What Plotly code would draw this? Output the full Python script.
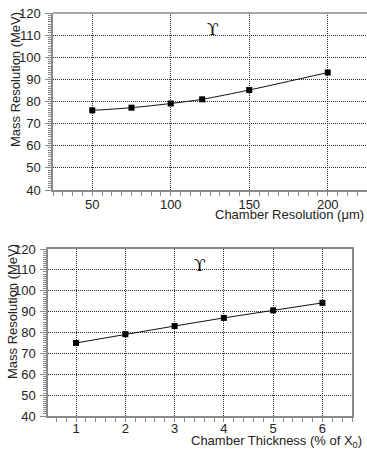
import plotly.graph_objects as go

# Top panel: chamber resolution
res_x = [50, 75, 100, 120, 150, 200]
res_y = [76.0, 77.2, 79.1, 81.0, 85.2, 93.1]

# Bottom panel: chamber thickness
thk_x = [1, 2, 3, 4, 5, 6]
thk_y = [75.0, 79.2, 83.1, 87.0, 90.6, 94.2]

y_ticks = [40, 50, 60, 70, 80, 90, 100, 110, 120]
top_x_ticks = [50, 100, 150, 200]
bot_x_ticks = [1, 2, 3, 4, 5, 6]

W, H = 367, 449
FONT = "Liberation Sans, Arial, sans-serif"
TXT = "#222222"
AXC = "#8a8a8a"
GRID = "#2a2a2a"

fig = go.Figure()
fig.add_trace(go.Scatter(x=res_x, y=res_y, mode="lines+markers",
                         line=dict(color="#111111", width=1, shape="spline", smoothing=0.8),
                         marker=dict(symbol="square", size=6, color="#000000"),
                         xaxis="x", yaxis="y", showlegend=False))
fig.add_trace(go.Scatter(x=thk_x, y=thk_y, mode="lines+markers",
                         line=dict(color="#111111", width=1),
                         marker=dict(symbol="square", size=6, color="#000000"),
                         xaxis="x2", yaxis="y2", showlegend=False))

def px_x(p):
    return p / W

def px_y(p):
    return 1 - p / H

base = dict(
    showline=True, linecolor=AXC, linewidth=1.5,
    ticks="outside", tickcolor=AXC, tickwidth=1,
    showgrid=True, gridcolor=GRID, griddash="1px,1px", gridwidth=1,
    zeroline=False, automargin=False,
    tickfont=dict(family=FONT, size=13, color=TXT),
)
xax = dict(base, ticklen=4, ticklabelstandoff=-2)
yax = dict(base, ticklen=6, ticklabelstandoff=2)
yminor = dict(dtick=1, tick0=0, ticklen=3, tickcolor=AXC, showgrid=False, ticks="outside")

fig.update_layout(
    width=W, height=H,
    margin=dict(l=0, r=0, t=0, b=0),
    paper_bgcolor="white", plot_bgcolor="white",
    xaxis=dict(xax, domain=[px_x(53), 1.0], range=[25, 225],
               tickvals=top_x_ticks, anchor="y", mirror=False,
               minor=dict(dtick=6.25, tick0=0, ticklen=4, tickcolor=AXC, showgrid=False, ticks="outside")),
    yaxis=dict(yax, domain=[px_y(190), px_y(13)], range=[40, 120],
               tickvals=y_ticks, anchor="x", minor=yminor),
    xaxis2=dict(xax, domain=[px_x(48), px_x(352)], range=[0.43, 6.6],
                tickvals=bot_x_ticks, anchor="y2", mirror=True, ticklabelstandoff=-4,
                minor=dict(dtick=0.2, tick0=0, ticklen=4, tickcolor=AXC, showgrid=False, ticks="outside")),
    yaxis2=dict(yax, domain=[px_y(416), px_y(249)], range=[40, 120],
                tickvals=y_ticks, anchor="x2", mirror=True, minor=yminor),
)

# top border line for the top panel
fig.add_shape(type="line", xref="paper", yref="paper",
              x0=px_x(53), x1=1.0, y0=px_y(13), y1=px_y(13),
              line=dict(color=AXC, width=1.5))

annos = [
    dict(text="Mass Resolution (MeV)", x=px_x(16), y=px_y(80), textangle=-90),
    dict(text="Chamber Resolution (\u03bcm)", x=px_x(366), y=px_y(215), xanchor="right"),
    dict(text="Mass Resolution (MeV)", x=px_x(12), y=px_y(312), textangle=-90),
    dict(text="Chamber Thickness (% of X<sub>0</sub>)", x=px_x(364), y=px_y(441), xanchor="right"),
]
for a in annos:
    fig.add_annotation(xref="paper", yref="paper", showarrow=False,
                       font=dict(family=FONT, size=13, color=TXT),
                       xanchor=a.get("xanchor", "center"), yanchor="middle",
                       x=a["x"], y=a["y"], text=a["text"], textangle=a.get("textangle", 0))

for (x, y) in [(213, 29), (200, 265)]:
    fig.add_annotation(xref="paper", yref="paper", showarrow=False,
                       text="\u03d2", x=px_x(x), y=px_y(y),
                       font=dict(family="DejaVu Serif, Liberation Serif, serif", size=17, color="#111111"),
                       xanchor="center", yanchor="middle")

fig.write_html("out.html", config={"displayModeBar": False},
               post_script="document.body.style.margin='0';document.body.style.overflow='hidden';")
